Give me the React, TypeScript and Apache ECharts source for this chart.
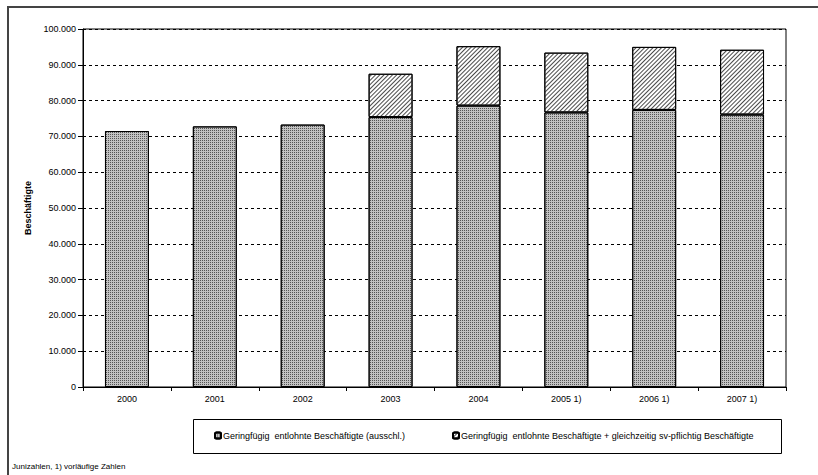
import React, { useEffect, useRef } from "react";
import * as echarts from "echarts";

const years = ["2000", "2001", "2002", "2003", "2004", "2005 1)", "2006 1)", "2007 1)"];
const ausschl = [71500, 72800, 73300, 75400, 78600, 76700, 77400, 76100];
const zusaetzlich = [null, null, null, 12100, 16600, 16700, 17600, 18100];
const seriesNames = [
  "Geringfügig  entlohnte Beschäftigte (ausschl.)",
  "Geringfügig  entlohnte Beschäftigte + gleichzeitig sv-pflichtig Beschäftigte",
];
const yTicks = { min: 0, max: 100000, interval: 10000 };
const yAxisName = "Beschäftigte";
const footnote = "Junizahlen, 1) vorläufige Zahlen";

const FONT = "'Liberation Sans', Arial, sans-serif";

function fmt(v: number): string {
  return String(v).replace(/\B(?=(\d{3})+(?!\d))/g, ".");
}

export default function App() {
  const ref = useRef<HTMLDivElement>(null);
  useEffect(() => {
    if (!ref.current) return;
    const chart = echarts.init(ref.current, null, { renderer: "svg" });
    const lowerStyle = {
      color: "#c2c2c2",
      borderColor: "#000",
      borderWidth: 1,
      decal: {
        symbol: "rect",
        symbolSize: 1,
        dashArrayX: [1, 1],
        dashArrayY: [1, 1],
        rotation: 0,
        color: "#555555",
      },
    };
    const upperStyle = {
      color: "#ffffff",
      borderColor: "#000",
      borderWidth: 1,
      decal: {
        symbol: "rect",
        symbolSize: 1,
        dashArrayX: [1, 0],
        dashArrayY: [1, 2],
        rotation: -Math.PI / 4,
        color: "#4a4a4a",
      },
    };
    chart.setOption({
      animation: false,
      textStyle: { fontFamily: FONT },
      grid: {
        left: 83,
        right: 32,
        top: 29,
        bottom: 88,
        show: true,
        borderColor: "#000",
        borderWidth: 1,
        backgroundColor: "#fff",
      },
      legend: [
        {
          data: [seriesNames[0]],
          left: 214,
          top: 431,
          itemWidth: 6,
          itemHeight: 6,
          padding: 0,
          textStyle: { fontSize: 9, color: "#000", fontFamily: FONT, padding: [0, 0, 0, -3] },
          selectedMode: false,
        },
        {
          data: [seriesNames[1]],
          left: 452,
          top: 431,
          itemWidth: 6,
          itemHeight: 6,
          padding: 0,
          textStyle: { fontSize: 9, color: "#000", fontFamily: FONT, padding: [0, 0, 0, -3] },
          selectedMode: false,
        },
      ],
      xAxis: {
        type: "category",
        data: years,
        axisLine: { lineStyle: { color: "#000", width: 1 } },
        axisTick: { show: true, length: 4, lineStyle: { color: "#000" } },
        axisLabel: { color: "#000", fontSize: 9, margin: 7, fontFamily: FONT },
      },
      yAxis: {
        type: "value",
        min: yTicks.min,
        max: yTicks.max,
        interval: yTicks.interval,
        name: yAxisName,
        nameLocation: "middle",
        nameGap: 48,
        nameTextStyle: { fontSize: 9, fontWeight: "bold", color: "#000", fontFamily: FONT },
        axisLine: { show: true, lineStyle: { color: "#000", width: 1 } },
        axisTick: { show: true, length: 5, lineStyle: { color: "#000" } },
        axisLabel: { color: "#000", fontSize: 9, margin: 7, formatter: (v: number) => fmt(v), fontFamily: FONT },
        splitLine: { show: true, lineStyle: { color: "#000", width: 1, type: [3, 3] } },
      },
      series: [
        {
          name: seriesNames[0],
          type: "bar",
          stack: "total",
          barWidth: "50%",
          data: ausschl,
          itemStyle: lowerStyle,
        },
        {
          name: seriesNames[1],
          type: "bar",
          stack: "total",
          barWidth: "50%",
          data: zusaetzlich,
          itemStyle: upperStyle,
        },
      ],
      graphic: [
        {
          type: "line",
          shape: { x1: 8, y1: 7, x2: 830, y2: 7 },
          style: { stroke: "#444", lineWidth: 2 },
          silent: true,
          z: 100,
        },
        {
          type: "line",
          shape: { x1: 8, y1: 6, x2: 8, y2: 480 },
          style: { stroke: "#444", lineWidth: 2 },
          silent: true,
          z: 100,
        },
        {
          type: "rect",
          shape: { x: 193.5, y: 419.5, width: 588, height: 34 },
          style: { fill: "none", stroke: "#000", lineWidth: 1 },
          silent: true,
        },
        {
          type: "text",
          left: 12,
          top: 462,
          style: { text: footnote, fontSize: 8, fill: "#000", fontFamily: FONT },
          silent: true,
        },
      ],
    });
    return () => chart.dispose();
  }, []);
  return (
    <div
      ref={ref}
      style={{ position: "fixed", left: 0, top: 0, width: 818, height: 475, background: "#fff" }}
    />
  );
}
